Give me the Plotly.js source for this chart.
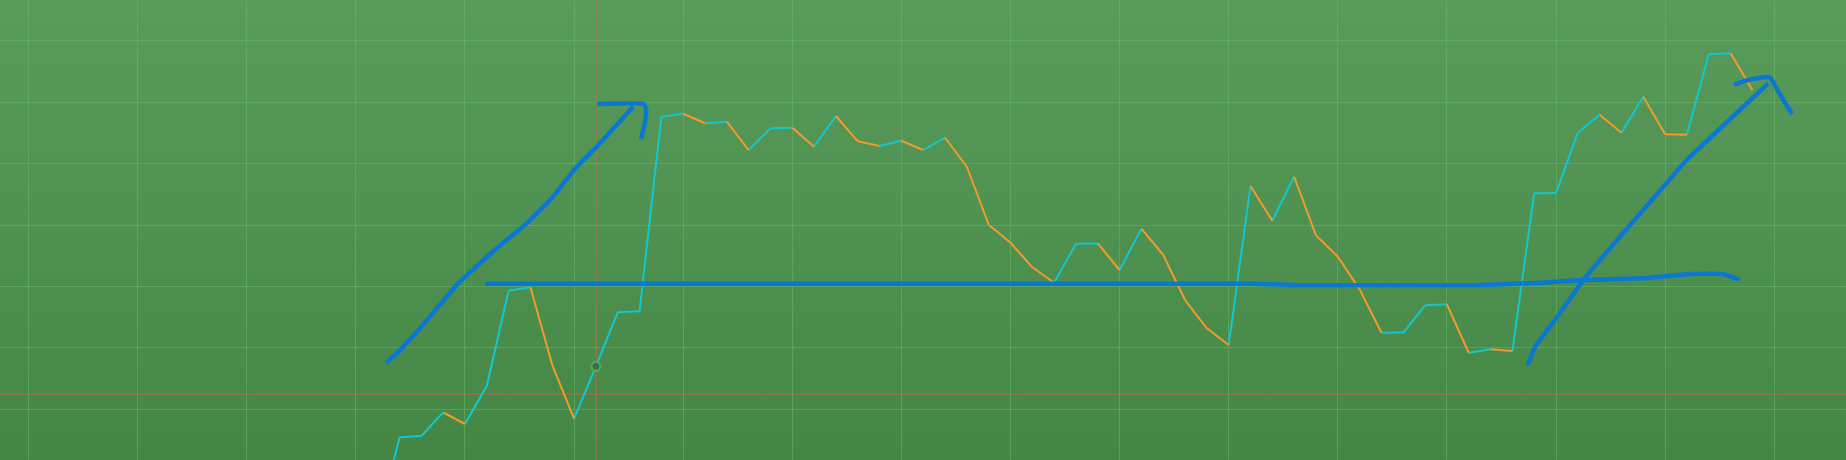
<!DOCTYPE html>
<html>
<head>
<meta charset="utf-8">
<script src="https://cdn.plot.ly/plotly-3.0.1.min.js"></script>
<style>
  html, body { margin: 0; padding: 0; }
  body { width: 1846px; height: 460px; background: linear-gradient(to bottom, #599b5b 0%, #4f9150 50%, #448745 100%); overflow: hidden; }
  #chart { width: 1846px; height: 460px; }
</style>
</head>
<body>
<div id="chart"></div>
<script>
// ---- price series (index positions and values) ----
const startIndex = 16;
const priceValues = [
  -8.8, 5.44, 5.65, 9.51, 7.61, 13.79, 29.31, 29.86, 17.21, 8.47,
  17.0, 25.79, 25.95, 57.63, 58.12, 56.56, 56.82, 52.21, 55.74, 55.84,
  52.75, 57.75, 53.63, 52.86, 53.72, 52.21, 54.21, 49.49, 40.05, 37.12,
  33.12, 30.61, 36.96, 37.0, 32.68, 39.40, 35.12, 27.79, 23.19, 20.47,
  46.35, 40.70, 47.86, 38.32, 34.84, 29.53, 22.47, 22.5, 26.93, 27.09,
  19.21, 19.77, 19.49, 45.16, 45.2, 55.03, 57.96, 55.03, 60.89, 54.77,
  54.7, 67.79, 67.95, 61.98
];

// ---- hand-drawn annotations (data units) ----
const arrow1ShaftX = [16.38, 17.10, 17.94, 19.69, 21.45, 22.83, 23.97, 25.12, 26.04, 27.71];
const arrow1ShaftY = [17.49, 19.93, 23.19, 30.51, 36.21, 40.28, 44.35, 49.49, 52.75, 59.26];
const arrow1HeadX = [26.05, 28.20, 28.30, 28.25, 28.07];
const arrow1HeadY = [59.70, 59.70, 58.72, 56.77, 54.00];

const levelLineX = [20.92, 55.98, 57.95, 66.52, 69.27, 71.24, 73.99, 76.14, 77.65, 78.43];
const levelLineY = [30.45, 30.45, 30.23, 30.23, 30.61, 31.05, 31.33, 32.03, 32.03, 31.05];

const arrow2ShaftX = [68.70, 69.04, 69.95, 71.25, 72.93, 74.46, 75.99, 77.52, 79.73];
const arrow2ShaftY = [17.21, 20.19, 24.54, 31.05, 38.10, 44.35, 50.58, 55.74, 63.07];
const arrow2HeadX = [78.17, 78.80, 79.58, 79.81, 80.36, 80.82];
const arrow2HeadY = [62.87, 63.61, 64.09, 64.01, 60.68, 58.07];

// ---- crosshair ----
const cursorX = 26;
const cursorY = 12.5;

// ---- build up / down segments ----
const upX = [], upY = [], downX = [], downY = [];
for (let i = 0; i < priceValues.length - 1; i++) {
  const x0 = startIndex + i, x1 = startIndex + i + 1;
  const y0 = priceValues[i], y1 = priceValues[i + 1];
  if (y1 >= y0) { upX.push(x0, x1, null); upY.push(y0, y1, null); }
  else { downX.push(x0, x1, null); downY.push(y0, y1, null); }
}

const up = '#12c7cf', down = '#f39a2a', pen = '#0a78d2';
const penLine = { color: pen, width: 4.5, shape: 'spline', smoothing: 0.3 };

const traces = [
  { x: upX, y: upY, mode: 'lines', line: { color: up, width: 2 }, hoverinfo: 'skip' },
  { x: downX, y: downY, mode: 'lines', line: { color: down, width: 2 }, hoverinfo: 'skip' },
  { x: arrow1ShaftX, y: arrow1ShaftY, mode: 'lines', line: penLine, hoverinfo: 'skip' },
  { x: arrow1HeadX, y: arrow1HeadY, mode: 'lines', line: penLine, hoverinfo: 'skip' },
  { x: levelLineX, y: levelLineY, mode: 'lines', line: penLine, hoverinfo: 'skip' },
  { x: arrow2ShaftX, y: arrow2ShaftY, mode: 'lines', line: penLine, hoverinfo: 'skip' },
  { x: arrow2HeadX, y: arrow2HeadY, mode: 'lines', line: penLine, hoverinfo: 'skip' },
  { x: [cursorX], y: [priceValues[cursorX - startIndex]], mode: 'markers',
    marker: { size: 9, color: '#3f6b47', line: { color: '#4fae52', width: 2 } }, hoverinfo: 'skip' }
];

const layout = {
  width: 1846, height: 460,
  margin: { l: 0, r: 0, t: 0, b: 0, pad: 0 },
  paper_bgcolor: 'rgba(0,0,0,0)',
  plot_bgcolor: 'rgba(0,0,0,0)',
  showlegend: false,
  xaxis: { range: [-1.31, 83.29], tick0: 0, dtick: 5, showticklabels: false, ticks: '',
           showgrid: true, gridcolor: 'rgba(100,190,100,0.5)', gridwidth: 1, zeroline: false, showline: false, fixedrange: true },
  yaxis: { range: [1.75, 76.63], tick0: 0, dtick: 10, showticklabels: false, ticks: '',
           showgrid: true, gridcolor: 'rgba(100,190,100,0.5)', gridwidth: 1, zeroline: false, showline: false, fixedrange: true },
  shapes: [
    { type: 'line', layer: 'between', xref: 'x', yref: 'paper', x0: cursorX, x1: cursorX, y0: 0, y1: 1,
      line: { color: 'rgba(240,80,80,0.9)', width: 1 } },
    { type: 'line', layer: 'between', xref: 'paper', yref: 'y', x0: 0, x1: 1, y0: cursorY, y1: cursorY,
      line: { color: 'rgba(240,80,80,0.9)', width: 1 } }
  ]
};

Plotly.newPlot('chart', traces, layout, { staticPlot: true, displayModeBar: false });
</script>
</body>
</html>
